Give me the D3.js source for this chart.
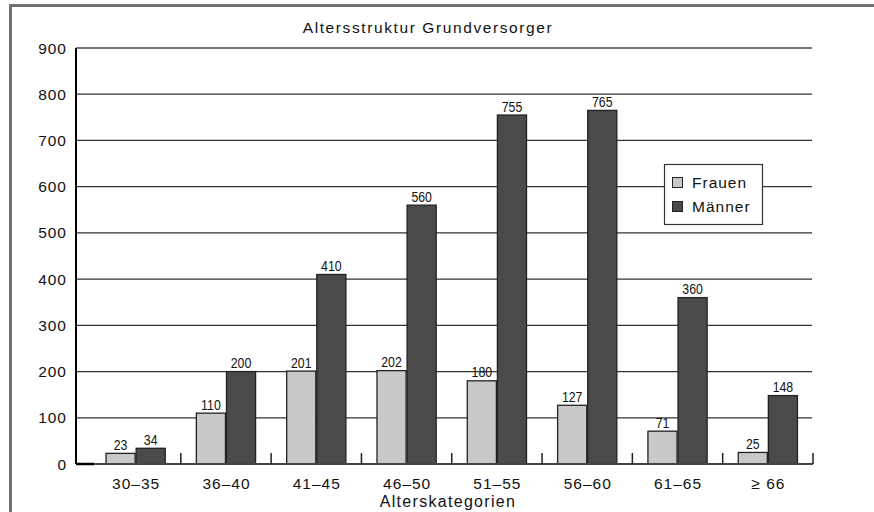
<!DOCTYPE html>
<html>
<head>
<meta charset="utf-8">
<script src="https://cdn.jsdelivr.net/npm/d3@7"></script>
<style>
  html, body { margin: 0; background: #fff; overflow: hidden; }
  svg { display: block; }
  text { font-family: "Liberation Sans", Arial, Helvetica, sans-serif; fill: #111; }
  .lbl { font-size: 15.5px; letter-spacing: 1px; }
  .num { font-size: 14px; }
</style>
</head>
<body>
<svg id="chart" width="874" height="512"></svg>
<script>
// Age groups and headcounts per group
const categories = ["30–35", "36–40", "41–45", "46–50", "51–55", "56–60", "61–65", "≥ 66"];
const seriesNames = ["Frauen", "Männer"];
const frauen = [23, 110, 201, 202, 180, 127, 71, 25];
const maenner = [34, 200, 410, 560, 755, 765, 360, 148];
const yTicks = [0, 100, 200, 300, 400, 500, 600, 700, 800, 900];

const colors = { "Frauen": "#c9c9c9", "Männer": "#4a4a4a" };

const rows = categories.map((c, i) => ({ cat: c, values: [
  { key: "Frauen", value: frauen[i] },
  { key: "Männer", value: maenner[i] }
]}));

const svg = d3.select("#chart");

// outer frame: left and top edges only
svg.append("path")
  .attr("d", "M10.5,512 V5.5 H874")
  .attr("fill", "none").attr("stroke", "#707070").attr("stroke-width", 3);

const plot = { left: 76, right: 812, top: 48, bottom: 464 };

const y = d3.scaleLinear().domain([0, 900]).range([plot.bottom, plot.top]);
const x0 = d3.scaleBand().domain(categories).range([90.5, 813]).paddingInner(0).paddingOuter(0);
const x1 = d3.scaleBand().domain(seriesNames).range([0, x0.bandwidth()]).paddingInner(0).paddingOuter(0.5);

// gridlines
svg.append("g").selectAll("line")
  .data(yTicks.filter(t => t > 0))
  .join("line")
  .attr("x1", plot.left).attr("x2", plot.right)
  .attr("y1", d => y(d)).attr("y2", d => y(d))
  .attr("stroke", d => d === 900 ? "#777" : "#333")
  .attr("stroke-width", d => d === 900 ? 2 : 1.2);

// y axis labels
svg.append("g").selectAll("text")
  .data(yTicks)
  .join("text")
  .attr("class", "lbl")
  .attr("x", 67).attr("y", d => y(d) + 5.5)
  .attr("text-anchor", "end")
  .text(d => d);

// bars
const groups = svg.append("g").selectAll("g")
  .data(rows)
  .join("g")
  .attr("transform", d => `translate(${x0(d.cat)},0)`);

groups.selectAll("rect")
  .data(d => d.values)
  .join("rect")
  .attr("x", d => x1(d.key) + 0.5)
  .attr("y", d => y(d.value))
  .attr("width", x1.bandwidth() - 1)
  .attr("height", d => plot.bottom - y(d.value))
  .attr("fill", d => colors[d.key])
  .attr("stroke", "#222")
  .attr("stroke-width", 1.3);

// value labels in a narrow face
groups.selectAll("text")
  .data(d => d.values)
  .join("text")
  .attr("class", "num")
  .attr("text-anchor", "middle")
  .attr("transform", d => `translate(${x1(d.key) + x1.bandwidth() / 2},${y(d.value) - 3.5}) scale(0.88,1)`)
  .text(d => d.value);

// x axis baseline and separator ticks
svg.append("line")
  .attr("x1", plot.left).attr("x2", 813)
  .attr("y1", plot.bottom).attr("y2", plot.bottom)
  .attr("stroke", "#444").attr("stroke-width", 2);
svg.append("line")
  .attr("x1", plot.left).attr("x2", 94)
  .attr("y1", plot.bottom).attr("y2", plot.bottom)
  .attr("stroke", "#000").attr("stroke-width", 2.5);
svg.append("g").selectAll("line")
  .data(categories)
  .join("line")
  .attr("x1", d => x0(d) + x0.bandwidth()).attr("x2", d => x0(d) + x0.bandwidth())
  .attr("y1", plot.bottom).attr("y2", plot.bottom - 11)
  .attr("stroke", "#222").attr("stroke-width", 1.5);

// y axis line
svg.append("line")
  .attr("x1", plot.left).attr("x2", plot.left)
  .attr("y1", plot.top).attr("y2", plot.bottom)
  .attr("stroke", "#000").attr("stroke-width", 2);

// category labels
svg.append("g").selectAll("text")
  .data(categories)
  .join("text")
  .attr("class", "lbl")
  .attr("x", d => x0(d) + x0.bandwidth() / 2 + 0.5)
  .attr("y", 489)
  .attr("text-anchor", "middle")
  .text(d => d);

// titles
svg.append("text")
  .attr("x", 428).attr("y", 33)
  .attr("text-anchor", "middle").attr("font-size", 15.5)
  .attr("letter-spacing", 1.6)
  .text("Altersstruktur Grundversorger");
svg.append("text")
  .attr("x", 448).attr("y", 507)
  .attr("text-anchor", "middle").attr("font-size", 16)
  .attr("letter-spacing", 1.3)
  .text("Alterskategorien");

// legend
const legend = svg.append("g");
legend.append("rect")
  .attr("x", 664.5).attr("y", 164.5).attr("width", 98).attr("height", 60)
  .attr("fill", "#fff").attr("stroke", "#333").attr("stroke-width", 1.2);
const items = legend.selectAll("g.item")
  .data(seriesNames)
  .join("g")
  .attr("transform", (d, i) => `translate(672,${177 + i * 24})`);
items.append("rect")
  .attr("x", 0.5).attr("y", 0.5).attr("width", 10).attr("height", 10)
  .attr("fill", d => colors[d]).attr("stroke", "#222").attr("stroke-width", 1);
items.append("text")
  .attr("class", "lbl")
  .attr("x", 20).attr("y", 10.5)
  .attr("letter-spacing", 1.15)
  .text(d => d);
</script>
</body>
</html>
